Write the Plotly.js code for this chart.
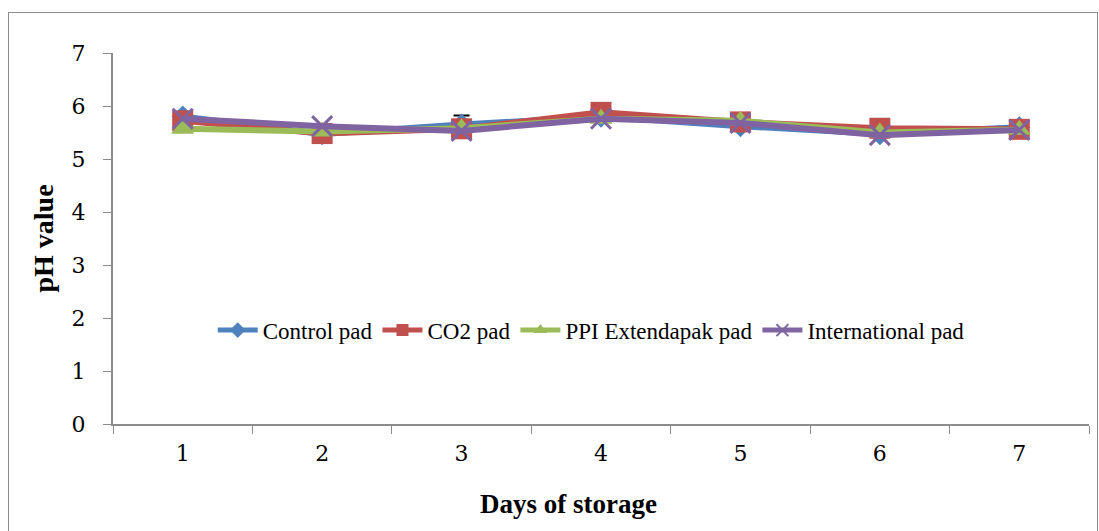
<!DOCTYPE html>
<html>
<head>
<meta charset="utf-8">
<script src="https://cdn.plot.ly/plotly-3.0.1.min.js"></script>
<style>
  html, body { margin: 0; padding: 0; background: #fff; }
  #wrap { position: relative; width: 1099px; height: 531px; overflow: hidden; }
  #chart { width: 1099px; height: 531px; }
  #frame { position: absolute; left: 8px; top: 12px; width: 1088px; height: 540px;
           border: 1px solid #8c8c8c; pointer-events: none; }
</style>
</head>
<body>
<div id="wrap">
  <div id="chart"></div>
  <div id="frame"></div>
</div>
<script>
// Days of storage (categories)
const days = ['1', '2', '3', '4', '5', '6', '7'];

// pH readings per pad type
const controlPad = [5.80, 5.47, 5.65, 5.80, 5.62, 5.47, 5.60];
const co2Pad = [5.72, 5.48, 5.57, 5.88, 5.70, 5.58, 5.56];
const ppiPad = [5.57, 5.52, 5.58, 5.76, 5.72, 5.50, 5.55];
const internationalPad = [5.76, 5.62, 5.53, 5.76, 5.68, 5.45, 5.55];

// Error bar on the control series (only day 3 carries one)
const controlErr = [null, null, 0.17, null, null, null, null];

const yTicks = [0, 1, 2, 3, 4, 5, 6, 7];

const serif = '"Liberation Serif", "DejaVu Serif", serif';
const digitSerif = '"DejaVu Serif", "Liberation Serif", serif';

const traces = [
  {
    name: 'Control pad', x: days, y: controlPad, type: 'scatter', mode: 'lines+markers',
    line: { color: '#4F81BD', width: 6 },
    marker: { symbol: 'diamond', size: 17, color: '#4F81BD' },
    error_y: { type: 'data', array: controlErr, visible: true, color: '#000', thickness: 2, width: 8 }
  },
  {
    name: 'CO2 pad', x: days, y: co2Pad, type: 'scatter', mode: 'lines+markers',
    line: { color: '#C0504D', width: 6 },
    marker: { symbol: 'square', size: 21, color: '#C0504D' }
  },
  {
    name: 'PPI Extendapak pad', x: days, y: ppiPad, type: 'scatter', mode: 'lines+markers',
    line: { color: '#9BBB59', width: 6 },
    marker: { symbol: 'triangle-up', size: 20, color: '#9BBB59' }
  },
  {
    name: 'International pad', x: days, y: internationalPad, type: 'scatter', mode: 'lines+markers',
    line: { color: '#8064A2', width: 6 },
    marker: { symbol: 'x-thin-open', size: 20, color: '#8064A2', line: { color: '#8064A2', width: 3 } }
  }
];

const layout = {
  width: 1099, height: 531,
  margin: { l: 113, r: 10, t: 53, b: 107 },
  paper_bgcolor: '#fff', plot_bgcolor: '#fff',
  font: { family: serif, size: 23, color: '#000' },
  showlegend: true,
  legend: {
    orientation: 'h', x: 0.49, xanchor: 'center', y: 0.253, yanchor: 'middle',
    font: { family: serif, size: 23, color: '#000' },
    itemsizing: 'constant', itemwidth: 40, bgcolor: 'rgba(0,0,0,0)', traceorder: 'normal'
  },
  xaxis: {
    type: 'category', range: [-0.5, 6.5], fixedrange: true,
    showgrid: false, zeroline: false,
    showline: true, linecolor: '#8c8c8c', linewidth: 2,
    ticks: 'outside', tickson: 'boundaries', ticklen: 8, tickcolor: '#8c8c8c', tickwidth: 1,
    ticklabelstandoff: 9,
    tickfont: { family: digitSerif, size: 22, color: '#000' }
  },
  yaxis: {
    range: [0, 7], fixedrange: true,
    tickvals: yTicks, ticktext: yTicks.map(String),
    showgrid: false, zeroline: false,
    showline: true, linecolor: '#8c8c8c', linewidth: 2,
    ticks: 'outside', ticklen: 8, tickcolor: '#8c8c8c', tickwidth: 1,
    ticklabelstandoff: 13,
    tickfont: { family: digitSerif, size: 22, color: '#000' }
  },
  annotations: [
    {
      text: '<b>Days of storage</b>', xref: 'paper', yref: 'paper',
      x: 0.467, y: -0.216, xanchor: 'center', yanchor: 'middle', showarrow: false,
      font: { family: serif, size: 27, color: '#000' }
    },
    {
      text: '<b>pH value</b>', xref: 'paper', yref: 'paper',
      x: -0.0717, y: 0.5, xanchor: 'center', yanchor: 'middle', showarrow: false,
      textangle: -90,
      font: { family: serif, size: 28, color: '#000' }
    }
  ]
};

Plotly.newPlot('chart', traces, layout, { displayModeBar: false, staticPlot: true });
</script>
</body>
</html>
